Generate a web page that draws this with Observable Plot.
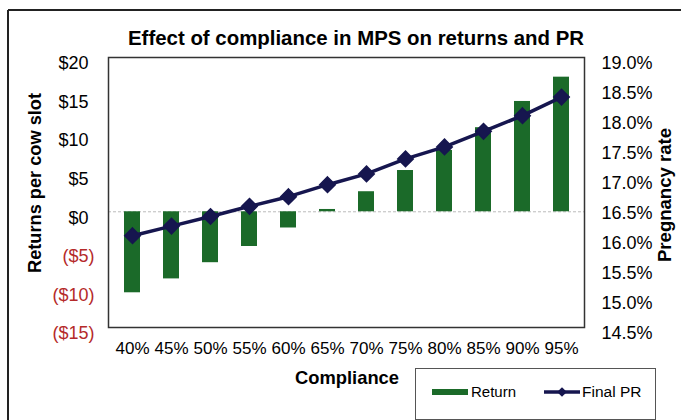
<!DOCTYPE html>
<html>
<head>
<meta charset="utf-8">
<script src="https://cdn.jsdelivr.net/npm/d3@7"></script>
<script src="https://cdn.jsdelivr.net/npm/@observablehq/plot@0.6"></script>
<style>
  body { margin: 0; background: #fff; }
  #chart { position: relative; width: 681px; height: 420px; overflow: hidden; }
</style>
</head>
<body>
<div id="chart"></div>
<script>
const compliance = ["40%","45%","50%","55%","60%","65%","70%","75%","80%","85%","90%","95%"];
const returns = [-10.5, -8.7, -6.6, -4.5, -2.1, 0.3, 2.6, 5.35, 7.95, 10.9, 14.3, 17.45];
const finalPR = [16.03, 16.19, 16.35, 16.52, 16.68, 16.88, 17.06, 17.31, 17.51, 17.77, 18.03, 18.34];
const returnTicksPos = [0, 5, 10, 15, 20];
const returnTicksNeg = [-15, -10, -5];
const prTicks = [14.5, 15.0, 15.5, 16.0, 16.5, 17.0, 17.5, 18.0, 18.5, 19.0];

const leftDomain = [-15, 20];
const rightDomain = [14.5, 19.0];
const toLeft = v => leftDomain[0] + (v - rightDomain[0]) * (leftDomain[1] - leftDomain[0]) / (rightDomain[1] - rightDomain[0]);
const toRight = v => rightDomain[0] + (v - leftDomain[0]) * (rightDomain[1] - rightDomain[0]) / (leftDomain[1] - leftDomain[0]);

const data = compliance.map((c, i) => ({compliance: c, ret: returns[i], pr: finalPR[i]}));

const green = "#1b6a29";
const navy = "#16164f";
const red = "#b52a2a";
const money = v => v < 0 ? `($${-v})` : `$${v}`;

const plot = Plot.plot({
  width: 681,
  height: 420,
  marginLeft: 108,
  marginRight: 97,
  marginTop: 57,
  marginBottom: 93,
  style: {fontFamily: "'Liberation Sans', Arial, sans-serif", fontSize: "17px", color: "#000", background: "#fff", overflow: "visible"},
  x: {type: "band", domain: compliance, paddingInner: 0.6, paddingOuter: 0.3, axis: null},
  y: {domain: leftDomain, axis: null},
  marks: [
    Plot.ruleY([0], {stroke: "#bbb", strokeDasharray: "3,2"}),
    Plot.barY(data, {x: "compliance", y: "ret", fill: green}),
    Plot.line(data, {x: "compliance", y: d => toLeft(d.pr), stroke: navy, strokeWidth: 3.5}),
    Plot.dot(data, {x: "compliance", y: d => toLeft(d.pr), symbol: "diamond2", r: 7, fill: navy, stroke: navy}),
    Plot.frame({stroke: "#333", strokeWidth: 1.5}),
    Plot.axisX({tickSize: 0, tickPadding: 14, fontSize: 17, label: null}),
    Plot.axisY({anchor: "left", ticks: returnTicksPos, tickFormat: money, tickSize: 0, tickPadding: 20, dy: 6, fontSize: 18, label: null}),
    Plot.axisY({anchor: "left", ticks: returnTicksNeg, tickFormat: money, tickSize: 0, tickPadding: 14, dy: 6, fontSize: 18, fill: red, label: null}),
    Plot.axisY({anchor: "right", ticks: prTicks.map(toLeft), tickFormat: v => toRight(v).toFixed(1) + "%", tickSize: 0, tickPadding: 17, dy: 6, fontSize: 18, label: null})
  ]
});

document.getElementById("chart").appendChild(plot);

const svg = d3.select(plot);
const font = "'Liberation Sans', Arial, sans-serif";

// outer frame (top & left edges visible)
svg.append("line").attr("x1", 8).attr("y1", 10).attr("x2", 681).attr("y2", 10).attr("stroke", "#222").attr("stroke-width", 2);
svg.append("line").attr("x1", 8).attr("y1", 10).attr("x2", 8).attr("y2", 420).attr("stroke", "#222").attr("stroke-width", 2);

function label(x, y, txt, size, len, rotate) {
  const t = svg.append("text")
    .attr("transform", `translate(${x},${y})` + (rotate ? " rotate(-90)" : ""))
    .attr("text-anchor", "middle")
    .attr("font-family", font).attr("font-weight", "bold").attr("font-size", size).attr("fill", "#000")
    .style("font-size", size + "px")
    .text(txt);
  if (len) t.attr("textLength", len).attr("lengthAdjust", "spacingAndGlyphs");
  return t;
}

label(356, 45, "Effect of compliance in MPS on returns and PR", 20.5, 456, false);
label(347, 384, "Compliance", 18.5, 104, false);
label(41, 183, "Returns per cow slot", 18.5, 180, true);
label(671, 195, "Pregnancy rate", 18.5, 134, true);

// legend
const lg = svg.append("g").attr("text-anchor", "start");
lg.append("rect").attr("x", 415.5).attr("y", 368.5).attr("width", 240).attr("height", 51)
  .attr("fill", "#fff").attr("stroke", "#555").attr("stroke-width", 1);
lg.append("rect").attr("x", 432).attr("y", 389).attr("width", 36).attr("height", 6).attr("fill", green);
lg.append("text").attr("x", 471).attr("y", 397).attr("font-family", font).style("font-size", "15px").attr("fill", "#000").text("Return");
lg.append("line").attr("x1", 544).attr("x2", 580).attr("y1", 392).attr("y2", 392).attr("stroke", navy).attr("stroke-width", 3.5);
lg.append("path").attr("d", d3.symbol(d3.symbolDiamond2, 60)()).attr("transform", "translate(562,392)").attr("fill", navy);
lg.append("text").attr("x", 582).attr("y", 397).attr("font-family", font).style("font-size", "15.5px").attr("fill", "#000").text("Final PR");
</script>
</body>
</html>
